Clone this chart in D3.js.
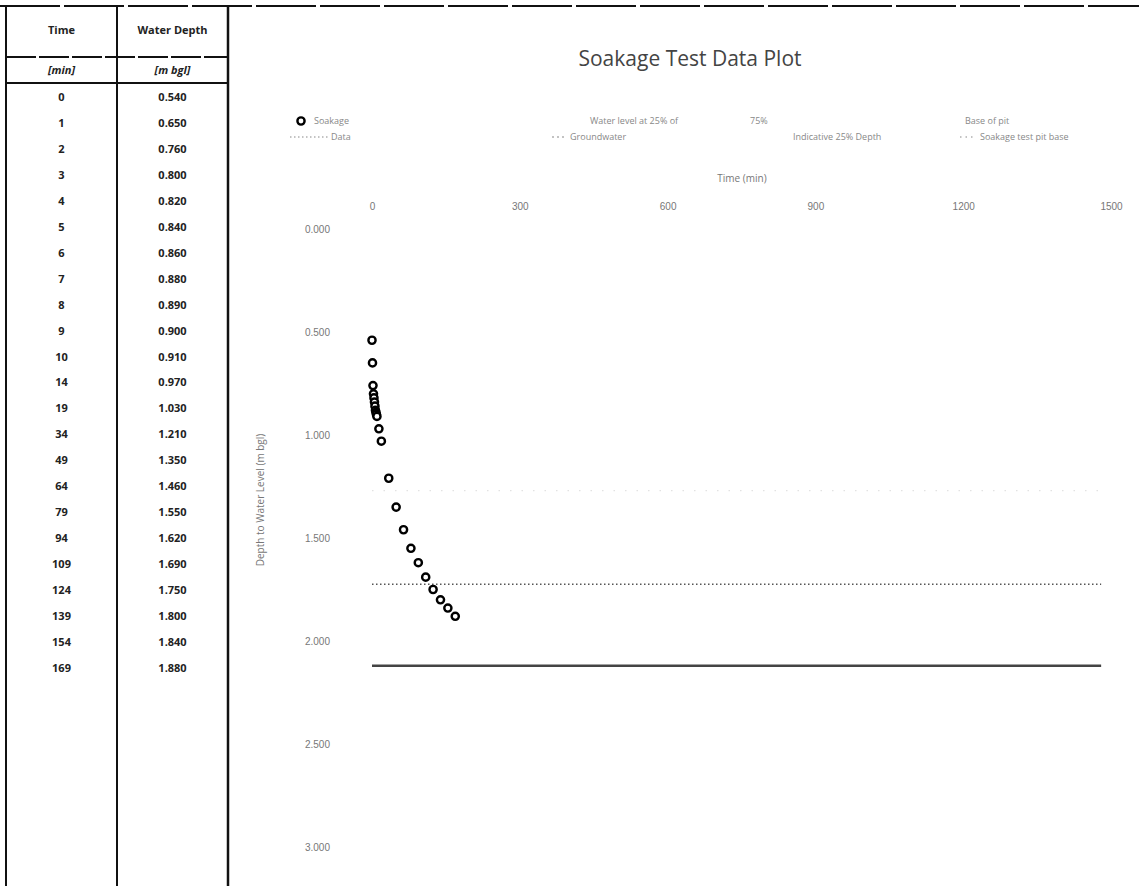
<!DOCTYPE html>
<html>
<head>
<meta charset="utf-8">
<script src="https://d3js.org/d3.v7.min.js"></script>
<style>
  body { margin: 0; background: #fff; }
  svg { display: block; font-family: "Open Sans", "DejaVu Sans", sans-serif; }
</style>
</head>
<body>
<svg id="drawing_region"></svg>
<script>
// soakage readings
const times  = [0, 1, 2, 3, 4, 5, 6, 7, 8, 9, 10, 14, 19, 34, 49, 64, 79, 94, 109, 124, 139, 154, 169];
const depths = [0.540, 0.650, 0.760, 0.800, 0.820, 0.840, 0.860, 0.880, 0.890, 0.900, 0.910, 0.970,
                1.030, 1.210, 1.350, 1.460, 1.550, 1.620, 1.690, 1.750, 1.800, 1.840, 1.880];

// reference levels
const levelNames  = ["50% effective depth", "25% effective depth", "Base of pit"];
const levelDepths = [1.270, 1.725, 2.120];
const levelSpan   = [0, 1480];

const xTicks = [0, 300, 600, 900, 1200, 1500];
const yTicks = [0, 0.5, 1.0, 1.5, 2.0, 2.5, 3.0];

const W = 1139, H = 886;

const svg = d3.select('#drawing_region')
    .attr('width', W)
    .attr('height', H);

// ---------- table on the left ----------
const colX = [6, 117, 228];
const table = svg.append('g');

table.append('line')
    .attr('x1', 0).attr('x2', W).attr('y1', 6).attr('y2', 6)
    .attr('stroke', '#111').attr('stroke-width', 2)
    .attr('stroke-dasharray', '60,4');

colX.forEach((x, i) => {
    table.append('line')
        .attr('x1', x).attr('x2', x).attr('y1', 6).attr('y2', H)
        .attr('stroke', '#111').attr('stroke-width', i == 2 ? 2.5 : 2);
});

table.append('line')
    .attr('x1', colX[0]).attr('x2', colX[2]).attr('y1', 57).attr('y2', 57)
    .attr('stroke', '#111').attr('stroke-width', 2)
    .attr('stroke-dasharray', '30,3');
table.append('line')
    .attr('x1', colX[0]).attr('x2', colX[2]).attr('y1', 83).attr('y2', 83)
    .attr('stroke', '#111').attr('stroke-width', 2);

const c1 = (colX[0] + colX[1]) / 2, c2 = (colX[1] + colX[2]) / 2;

table.append('text').attr('x', c1).attr('y', 34).text('Time');
table.append('text').attr('x', c2).attr('y', 34).text('Water Depth');
table.append('text').attr('x', c1).attr('y', 74).attr('font-style', 'italic').text('[min]');
table.append('text').attr('x', c2).attr('y', 74).attr('font-style', 'italic').text('[m bgl]');
table.selectAll('text')
    .attr('text-anchor', 'middle')
    .attr('font-size', '11px')
    .attr('font-weight', 'bold')
    .attr('fill', '#222');

const rowY = i => 101 + i * 25.95;

table.selectAll('.tcell')
    .data(times)
    .enter()
    .append('text')
    .attr('class', 'tcell')
    .attr('x', c1)
    .attr('y', (d, i) => rowY(i))
    .attr('text-anchor', 'middle')
    .attr('font-size', '11px')
    .attr('font-weight', 'bold')
    .attr('fill', '#222')
    .text(d => d);

table.selectAll('.dcell')
    .data(depths)
    .enter()
    .append('text')
    .attr('class', 'dcell')
    .attr('x', c2)
    .attr('y', (d, i) => rowY(i))
    .attr('text-anchor', 'middle')
    .attr('font-size', '11px')
    .attr('font-weight', 'bold')
    .attr('fill', '#222')
    .text(d => d3.format('.3f')(d));

// ---------- chart ----------
const xScale = d3.scaleLinear().domain([0, 1500]).range([372, 1111]);
const yScale = d3.scaleLinear().domain([0, 3]).range([229, 847]);

svg.append('text')
    .attr('x', 690).attr('y', 66)
    .attr('text-anchor', 'middle')
    .attr('font-size', '21px')
    .attr('fill', '#444')
    .text('Soakage Test Data Plot');

// x axis on top, labels only
const xAxis = svg.append('g')
    .attr('transform', `translate(0, 214)`)
    .call(d3.axisTop(xScale).tickValues(xTicks).tickSize(0).tickPadding(4).tickFormat(d3.format('d')));
xAxis.select('.domain').remove();
xAxis.selectAll('text').attr('font-size', '10px').attr('fill', '#777');

svg.append('text')
    .attr('x', 742).attr('y', 182)
    .attr('text-anchor', 'middle')
    .attr('font-size', '10px')
    .attr('fill', '#777')
    .text('Time (min)');

const yAxis = svg.append('g')
    .attr('transform', `translate(338, 0)`)
    .call(d3.axisLeft(yScale).tickValues(yTicks).tickSize(0).tickPadding(8).tickFormat(d3.format('.3f')));
yAxis.select('.domain').remove();
yAxis.selectAll('text').attr('font-size', '10px').attr('fill', '#777');

svg.append('text')
    .attr('transform', 'translate(264, 500) rotate(-90)')
    .attr('text-anchor', 'middle')
    .attr('font-size', '10px')
    .attr('fill', '#777')
    .text('Depth to Water Level (m bgl)');

// reference level lines
const levelStyle = [
    {stroke: '#e2e2e2', width: 1.2, dash: '1.5,10'},
    {stroke: '#555', width: 1.5, dash: '1.5,2.5'},
    {stroke: '#444', width: 2.5, dash: null}
];

svg.selectAll('.level')
    .data(levelDepths)
    .enter()
    .append('line')
    .attr('class', 'level')
    .attr('x1', xScale(levelSpan[0]))
    .attr('x2', xScale(levelSpan[1]))
    .attr('y1', d => yScale(d))
    .attr('y2', d => yScale(d))
    .attr('stroke', (d, i) => levelStyle[i].stroke)
    .attr('stroke-width', (d, i) => levelStyle[i].width)
    .attr('stroke-dasharray', (d, i) => levelStyle[i].dash);

// data points
svg.selectAll('.pt')
    .data(times)
    .enter()
    .append('circle')
    .attr('class', 'pt')
    .attr('cx', d => xScale(d))
    .attr('cy', (d, i) => yScale(depths[i]))
    .attr('r', 3.6)
    .attr('fill', '#fff')
    .attr('stroke', '#000')
    .attr('stroke-width', 2.4);

// legend
const legend = svg.append('g').attr('font-size', '9px').attr('fill', '#888');

legend.append('circle')
    .attr('cx', 301).attr('cy', 121).attr('r', 3.6)
    .attr('fill', '#fff').attr('stroke', '#000').attr('stroke-width', 2.4);
legend.append('text').attr('x', 314).attr('y', 124).text('Soakage');
legend.append('line')
    .attr('x1', 290).attr('x2', 328).attr('y1', 137).attr('y2', 137)
    .attr('stroke', '#888').attr('stroke-width', 1.2).attr('stroke-dasharray', '1.5,2.5');
legend.append('text').attr('x', 331).attr('y', 140).text('Data');

legend.append('text').attr('x', 590).attr('y', 124).text('Water level at 25% of');
legend.append('line')
    .attr('x1', 552).attr('x2', 566).attr('y1', 137).attr('y2', 137)
    .attr('stroke', '#888').attr('stroke-width', 1.2).attr('stroke-dasharray', '2,3');
legend.append('text').attr('x', 570).attr('y', 140).text('Groundwater');

legend.append('text').attr('x', 750).attr('y', 124).text('75%');
legend.append('text').attr('x', 793).attr('y', 140).text('Indicative 25% Depth');

legend.append('text').attr('x', 965).attr('y', 124).text('Base of pit');
legend.append('line')
    .attr('x1', 960).attr('x2', 975).attr('y1', 137).attr('y2', 137)
    .attr('stroke', '#888').attr('stroke-width', 1.2).attr('stroke-dasharray', '1.5,4');
legend.append('text').attr('x', 980).attr('y', 140).text('Soakage test pit base');
</script>
</body>
</html>
